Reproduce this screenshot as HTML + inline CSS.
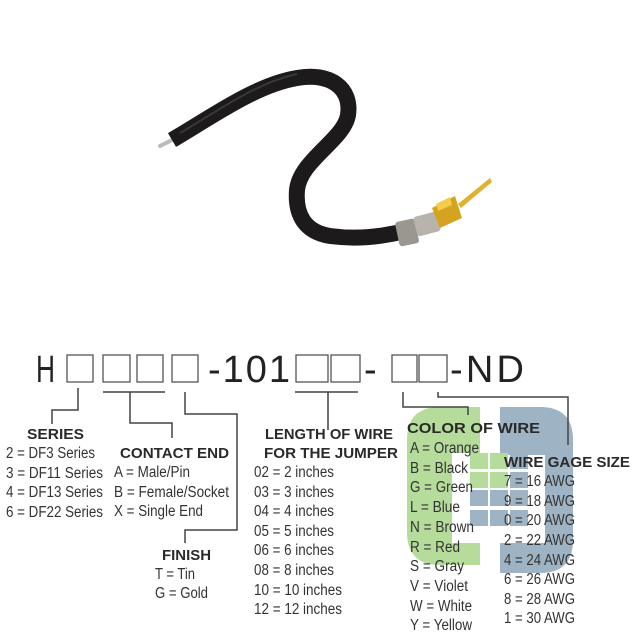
<!DOCTYPE html>
<html><head><meta charset="utf-8"><style>
html,body{margin:0;padding:0;background:#fff;}
svg{display:block;}
text{font-family:"Liberation Sans",sans-serif;}
.it{font-size:15.5px;fill:#333;}
.hd{font-size:15px;font-weight:bold;fill:#2a2a2a;}
.ln{fill:none;stroke:#444;stroke-width:1.5;}
.bx{fill:none;stroke:#555;stroke-width:1.3;}
</style></head><body>
<svg width="640" height="640" viewBox="0 0 640 640" xmlns="http://www.w3.org/2000/svg">
<rect width="640" height="640" fill="#fff"/>
<!-- wire -->
<path d="M160,146 L172,140" stroke="#bbb" stroke-width="4" stroke-linecap="round"/>
<path d="M172,140 C210,118 255,85 297,78 C330,72 352,88 348,115 C344,140 300,160 297,190 C295,215 305,232 330,236 C360,240 385,236 405,231" fill="none" stroke="#1c1a1a" stroke-width="16" stroke-linecap="butt"/>
<path d="M180,133 C215,113 255,83 297,74" fill="none" stroke="#555" stroke-width="2" opacity="0.5"/>
<!-- ferrule -->
<rect x="397" y="220" width="20" height="25" rx="3" fill="#9a9690" transform="rotate(-12 407 232)"/>
<rect x="415" y="214" width="24" height="20" rx="3" fill="#b8b4ac" transform="rotate(-15 427 224)"/>
<path d="M432,208 L455,196 L462,218 L440,228 Z" fill="#d4a320"/>
<path d="M436,204 L450,197 L452,205 L438,211 Z" fill="#f2cc4a"/>
<path d="M458,204 L490,178 L492,182 L461,208 Z" fill="#e0b030"/>
<!-- logo -->
<path d="M480,407 L440,407 Q407,407 407,440 L407,532 Q407,565 440,565 L480,565 L480,543 L452,543 L452,453 L480,453 Z" fill="#b6dc9c"/>
<path d="M500,407 L540,407 Q573,407 573,440 L573,540 Q573,573 540,573 L500,573 L500,543 L545,543 L545,455 L500,455 Z" fill="#9eb3c4"/>
<g>
<rect x="470" y="453" width="18" height="16" fill="#b6dc9c"/><rect x="490" y="453" width="18" height="16" fill="#b6dc9c"/><rect x="510" y="453" width="18" height="16" fill="#9eb3c4"/>
<rect x="470" y="472" width="18" height="16" fill="#b6dc9c"/><rect x="490" y="472" width="18" height="16" fill="#b6dc9c"/><rect x="510" y="472" width="18" height="16" fill="#9eb3c4"/>
<rect x="470" y="490" width="18" height="16" fill="#9eb3c4"/><rect x="490" y="490" width="18" height="16" fill="#9eb3c4"/><rect x="510" y="490" width="18" height="16" fill="#9eb3c4"/>
<rect x="470" y="510" width="18" height="16" fill="#9eb3c4"/><rect x="490" y="510" width="18" height="16" fill="#9eb3c4"/><rect x="510" y="510" width="18" height="16" fill="#9eb3c4"/>
</g>
<!-- header -->
<text x="36" y="382" font-size="38" fill="#222" textLength="19" lengthAdjust="spacingAndGlyphs">H</text>
<rect class="bx" x="67" y="355" width="26" height="27"/>
<rect class="bx" x="103" y="355" width="27" height="27"/>
<rect class="bx" x="137" y="355" width="26" height="27"/>
<rect class="bx" x="172" y="355" width="26" height="27"/>
<text x="208" y="382" font-size="38" fill="#222" textLength="82" lengthAdjust="spacing">-101</text>
<rect class="bx" x="296" y="355" width="32" height="27"/>
<rect class="bx" x="331" y="355" width="29" height="27"/>
<text x="364" y="382" font-size="38" fill="#222">-</text>
<rect class="bx" x="392" y="355" width="25" height="27"/>
<rect class="bx" x="419" y="355" width="28" height="27"/>
<text x="450" y="382" font-size="38" fill="#222" textLength="74" lengthAdjust="spacing">-ND</text>
<!-- connectors -->
<path class="ln" d="M78,388 V410 H52 V424"/>
<path class="ln" d="M103,392 H165 M130,392 V423 H172 V438"/>
<path class="ln" d="M185,392 V414 H237 V530 H185 V543"/>
<path class="ln" d="M295,392 H358 M328,392 V430"/>
<path class="ln" d="M403,392 V407 H468 V415"/>
<path class="ln" d="M438,392 V397 H568 V445"/>
<!-- SERIES -->
<text class="hd" x="27" y="439" textLength="57" lengthAdjust="spacingAndGlyphs">SERIES</text>
<text class="it" x="6" y="458" textLength="89" lengthAdjust="spacingAndGlyphs">2 = DF3 Series</text>
<text class="it" x="6" y="478" textLength="97" lengthAdjust="spacingAndGlyphs">3 = DF11 Series</text>
<text class="it" x="6" y="497" textLength="97" lengthAdjust="spacingAndGlyphs">4 = DF13 Series</text>
<text class="it" x="6" y="517" textLength="97" lengthAdjust="spacingAndGlyphs">6 = DF22 Series</text>
<!-- CONTACT END -->
<text class="hd" x="120" y="458" textLength="109" lengthAdjust="spacingAndGlyphs">CONTACT END</text>
<text class="it" x="114" y="477" textLength="76" lengthAdjust="spacingAndGlyphs">A = Male/Pin</text>
<text class="it" x="114" y="497" textLength="115" lengthAdjust="spacingAndGlyphs">B = Female/Socket</text>
<text class="it" x="114" y="516" textLength="89" lengthAdjust="spacingAndGlyphs">X = Single End</text>
<!-- FINISH -->
<text class="hd" x="162" y="560" textLength="49" lengthAdjust="spacingAndGlyphs">FINISH</text>
<text class="it" x="155" y="579" textLength="40" lengthAdjust="spacingAndGlyphs">T = Tin</text>
<text class="it" x="155" y="598" textLength="53" lengthAdjust="spacingAndGlyphs">G = Gold</text>
<!-- LENGTH -->
<text class="hd" x="265" y="439" textLength="128" lengthAdjust="spacingAndGlyphs">LENGTH OF WIRE</text>
<text class="hd" x="264" y="458" textLength="134" lengthAdjust="spacingAndGlyphs">FOR THE JUMPER</text>
<text class="it" x="254" y="477" textLength="80" lengthAdjust="spacingAndGlyphs">02 = 2 inches</text>
<text class="it" x="254" y="497" textLength="80" lengthAdjust="spacingAndGlyphs">03 = 3 inches</text>
<text class="it" x="254" y="516" textLength="80" lengthAdjust="spacingAndGlyphs">04 = 4 inches</text>
<text class="it" x="254" y="536" textLength="80" lengthAdjust="spacingAndGlyphs">05 = 5 inches</text>
<text class="it" x="254" y="555" textLength="80" lengthAdjust="spacingAndGlyphs">06 = 6 inches</text>
<text class="it" x="254" y="575" textLength="80" lengthAdjust="spacingAndGlyphs">08 = 8 inches</text>
<text class="it" x="254" y="595" textLength="88" lengthAdjust="spacingAndGlyphs">10 = 10 inches</text>
<text class="it" x="254" y="614" textLength="88" lengthAdjust="spacingAndGlyphs">12 = 12 inches</text>
<!-- COLOR -->
<text class="hd" x="407" y="433" textLength="133" lengthAdjust="spacingAndGlyphs">COLOR OF WIRE</text>
<text class="it" x="410" y="453" textLength="69" lengthAdjust="spacingAndGlyphs">A = Orange</text>
<text class="it" x="410" y="473" textLength="58" lengthAdjust="spacingAndGlyphs">B = Black</text>
<text class="it" x="410" y="492" textLength="63" lengthAdjust="spacingAndGlyphs">G = Green</text>
<text class="it" x="410" y="512" textLength="50" lengthAdjust="spacingAndGlyphs">L = Blue</text>
<text class="it" x="410" y="532" textLength="64" lengthAdjust="spacingAndGlyphs">N = Brown</text>
<text class="it" x="410" y="552" textLength="50" lengthAdjust="spacingAndGlyphs">R = Red</text>
<text class="it" x="410" y="571" textLength="54" lengthAdjust="spacingAndGlyphs">S = Gray</text>
<text class="it" x="410" y="591" textLength="58" lengthAdjust="spacingAndGlyphs">V = Violet</text>
<text class="it" x="410" y="611" textLength="62" lengthAdjust="spacingAndGlyphs">W = White</text>
<text class="it" x="410" y="630" textLength="62" lengthAdjust="spacingAndGlyphs">Y = Yellow</text>
<!-- GAGE -->
<text class="hd" x="504" y="467" textLength="126" lengthAdjust="spacingAndGlyphs">WIRE GAGE SIZE</text>
<text class="it" x="504" y="486" textLength="71" lengthAdjust="spacingAndGlyphs">7 = 16 AWG</text>
<text class="it" x="504" y="506" textLength="71" lengthAdjust="spacingAndGlyphs">9 = 18 AWG</text>
<text class="it" x="504" y="525" textLength="71" lengthAdjust="spacingAndGlyphs">0 = 20 AWG</text>
<text class="it" x="504" y="545" textLength="71" lengthAdjust="spacingAndGlyphs">2 = 22 AWG</text>
<text class="it" x="504" y="565" textLength="71" lengthAdjust="spacingAndGlyphs">4 = 24 AWG</text>
<text class="it" x="504" y="584" textLength="71" lengthAdjust="spacingAndGlyphs">6 = 26 AWG</text>
<text class="it" x="504" y="604" textLength="71" lengthAdjust="spacingAndGlyphs">8 = 28 AWG</text>
<text class="it" x="504" y="623" textLength="71" lengthAdjust="spacingAndGlyphs">1 = 30 AWG</text>
</svg>
</body></html>
